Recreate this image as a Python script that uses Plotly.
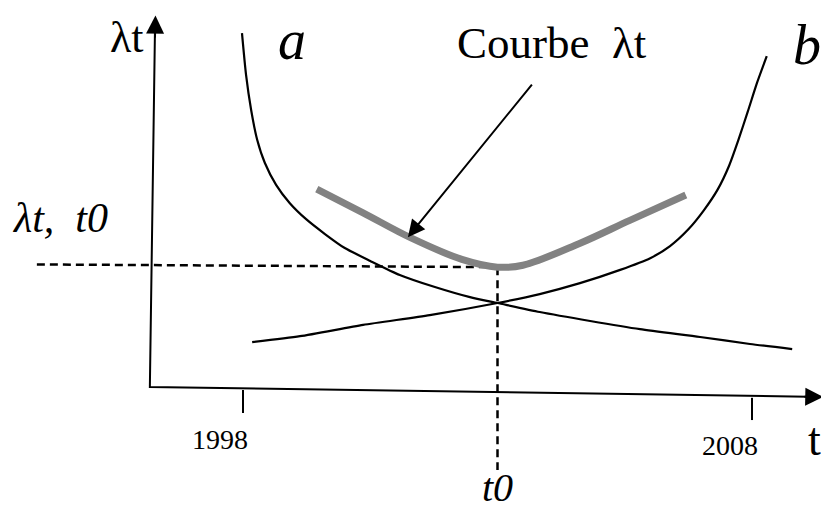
import plotly.graph_objects as go

# curve a : decreasing branch
a_t = [1997.98, 1998.06, 1998.16, 1998.28, 1998.43, 1998.65, 1998.92, 1999.24, 1999.61, 2000.0,
       2000.5, 2001.08, 2001.77, 2002.46, 2003.0, 2003.83, 2004.82, 2005.8, 2006.98, 2007.96, 2008.79]
a_lam = [9.15, 8.08, 7.18, 6.41, 5.82, 5.26, 4.79, 4.38, 4.0, 3.64,
         3.31, 2.95, 2.64, 2.38, 2.23, 2.0, 1.77, 1.56, 1.36, 1.18, 1.05]

# curve b : increasing branch
b_t = [1998.18, 1999.12, 2000.36, 2001.67, 2003.0, 2003.83, 2004.62, 2005.41, 2006.0, 2006.39,
       2006.75, 2007.05, 2007.33, 2007.55, 2007.73, 2007.92, 2008.1, 2008.29]
b_lam = [1.23, 1.38, 1.67, 1.92, 2.23, 2.46, 2.74, 3.08, 3.38, 3.69,
         4.12, 4.6, 5.15, 5.75, 6.4, 7.15, 7.88, 8.56]

# thick grey "Courbe lambda t"
g_t = [1999.45, 2000.35, 2001.3, 2002.3, 2003.0, 2003.5, 2004.6, 2005.6, 2006.7]
g_lam = [5.15, 4.55, 3.9, 3.35, 3.15, 3.2, 3.75, 4.35, 5.0]

t0 = 2003.0
lam_t0 = 3.22
tick_years = [1998, 2008]
tick_labels = ["1998", "2008"]

serif = "Liberation Serif, Times New Roman, serif"
dash = "8px,5px"

fig = go.Figure()

# axes drawn by hand (the scan is a little tilted)
fig.add_trace(go.Scatter(x=[1996.27, 1996.17, 2009.1], y=[9.2, 0.08, -0.17],
                         mode="lines", line=dict(color="black", width=2),
                         showlegend=False, hoverinfo="skip"))

# ticks
tick_y = [(0.0, -0.59), (-0.2, -0.77)]
for yr, (y0, y1) in zip(tick_years, tick_y):
    fig.add_trace(go.Scatter(x=[yr, yr], y=[y0, y1], mode="lines",
                             line=dict(color="black", width=2),
                             showlegend=False, hoverinfo="skip"))

# dashed guide lines
fig.add_trace(go.Scatter(x=[1993.95, t0], y=[lam_t0, lam_t0 - 0.07], mode="lines",
                         line=dict(color="black", width=2.5, dash=dash),
                         showlegend=False, hoverinfo="skip"))
fig.add_trace(go.Scatter(x=[t0, t0], y=[3.15, -2.05], mode="lines",
                         line=dict(color="black", width=2.5, dash=dash),
                         showlegend=False, hoverinfo="skip"))

fig.add_trace(go.Scatter(x=g_t, y=g_lam, mode="lines", line_shape="spline",
                         line=dict(color="#828282", width=7),
                         showlegend=False, hoverinfo="skip"))
fig.add_trace(go.Scatter(x=a_t, y=a_lam, mode="lines", line_shape="spline",
                         line=dict(color="black", width=2.2, smoothing=0.6),
                         showlegend=False, hoverinfo="skip"))
fig.add_trace(go.Scatter(x=b_t, y=b_lam, mode="lines", line_shape="spline",
                         line=dict(color="black", width=2.2, smoothing=0.6),
                         showlegend=False, hoverinfo="skip"))

# arrow heads
arrows = [
    dict(x=1996.28, y=9.6, ax=1996.27, ay=9.0, size=1.8),
    dict(x=2009.4, y=-0.18, ax=2009.0, ay=-0.17, size=1.8),
    dict(x=2001.24, y=3.92, ax=2003.7, ay=7.87, size=1.7),
]
for a in arrows:
    fig.add_annotation(x=a["x"], y=a["y"], ax=a["ax"], ay=a["ay"],
                       xref="x", yref="y", axref="x", ayref="y",
                       showarrow=True, arrowhead=2, arrowsize=a["size"],
                       arrowwidth=2, arrowcolor="black", text="")

labels = [
    ("λt", 1995.72, 9.05, 44),
    ("<i>a</i>", 1998.96, 8.97, 56),
    ("<i>b</i>", 2009.08, 8.85, 56),
    ("Courbe  λt", 2004.07, 8.9, 45),
    ("<i>λt,  t0</i>", 1994.4, 4.41, 42),
    (tick_labels[0], 1997.55, -1.28, 28),
    (tick_labels[1], 2007.57, -1.41, 28),
    ("t", 2009.22, -1.28, 46),
    ("<i>t0</i>", t0, -2.49, 40),
]
for txt, x, y, size in labels:
    fig.add_annotation(x=x, y=y, xref="x", yref="y", text=txt, showarrow=False,
                       xanchor="center", yanchor="middle",
                       font=dict(family=serif, size=size, color="black"))

# page body keeps an 8px margin; size the figure so the page does not scroll
fig.update_layout(
    width=821, height=504,
    margin=dict(l=0, r=0, t=0, b=0),
    plot_bgcolor="white", paper_bgcolor="white",
    xaxis=dict(range=[1993.383, 2009.513], visible=False),
    yaxis=dict(range=[-3.128, 9.795], visible=False),
    showlegend=False,
)

fig.write_html("out.html")
